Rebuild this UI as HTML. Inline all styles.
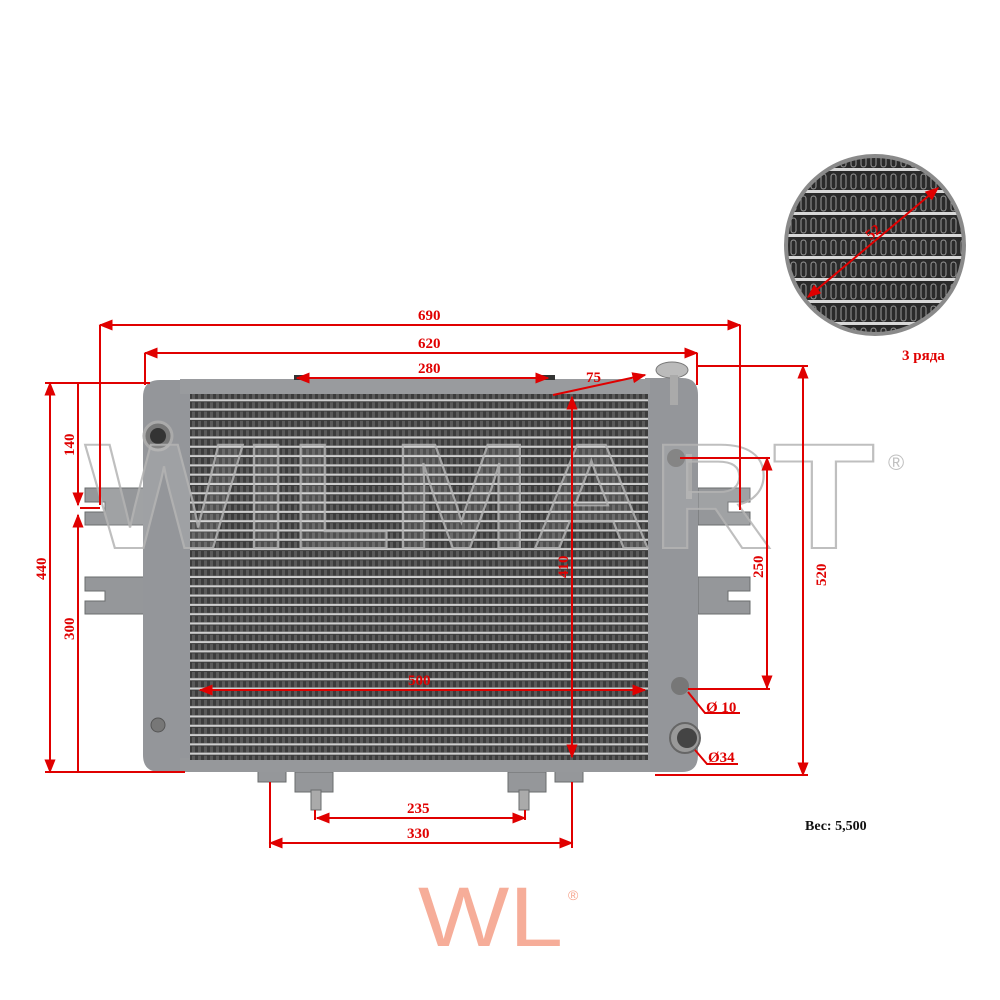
<!DOCTYPE html>
<html><head><meta charset="utf-8"><style>
html,body{margin:0;padding:0;background:#fff;width:1000px;height:1000px;overflow:hidden}
svg{display:block}
.t{font-family:"Liberation Serif",serif;font-weight:bold;fill:#e00000;font-size:15px}
</style></head><body>
<svg width="1000" height="1000" viewBox="0 0 1000 1000">
<defs>
<pattern id="core" x="0" y="392" width="6" height="9.3" patternUnits="userSpaceOnUse">
<rect width="6" height="9.3" fill="#3c3c3c"/>
<rect x="0" y="1" width="3" height="6" fill="#5a5a5a"/>
<rect y="7.2" width="6" height="2.1" fill="#cfcfcf"/>
</pattern>
<pattern id="inset" x="0" y="150" width="10" height="22" patternUnits="userSpaceOnUse">
<rect width="10" height="22" fill="#2a2a2a"/>
<rect x="1" y="2" width="5" height="15" rx="2.5" fill="none" stroke="#9a9a9a" stroke-width="1"/>
<rect y="18" width="10" height="3" fill="#d8d8d8"/>
</pattern>
<marker id="a" viewBox="0 0 10 10" refX="9" refY="5" markerWidth="7" markerHeight="7" orient="auto-start-reverse"><path d="M0,1 L10,5 L0,9 Z" fill="#e00000"/></marker>
<clipPath id="cc"><circle cx="875" cy="245" r="87"/></clipPath>
</defs>

<!-- brackets -->
<g fill="#95979a" stroke="#6a6c6e">
<path d="M85,488 H145 V525 H85 V512 H105 V502 H85 Z"/>
<path d="M85,577 H145 V614 H85 V601 H105 V591 H85 Z"/>
<path d="M698,488 H750 V502 H728 V512 H750 V525 H698 Z"/>
<path d="M698,577 H750 V591 H728 V601 H750 V614 H698 Z"/>
<rect x="258" y="770" width="28" height="12"/><rect x="555" y="770" width="28" height="12"/>
<rect x="295" y="772" width="38" height="20"/><rect x="508" y="772" width="38" height="20"/>
<rect x="311" y="790" width="10" height="20" fill="#aaa"/><rect x="519" y="790" width="10" height="20" fill="#aaa"/>
</g>
<!-- frame -->
<path d="M160,380 H190 V772 H160 Q143,772 143,755 V397 Q143,380 160,380 Z" fill="#94969a"/>
<path d="M645,378 H682 Q698,378 698,395 V755 Q698,772 682,772 H645 Z" fill="#94969a"/>
<rect x="180" y="379" width="470" height="15" fill="#999b9e"/>
<rect x="180" y="758" width="470" height="14" fill="#96989b"/>
<rect x="190" y="394" width="458" height="366" fill="url(#core)"/>
<rect x="294" y="375" width="14" height="5" fill="#333"/><rect x="541" y="375" width="14" height="5" fill="#333"/>
<circle cx="158" cy="436" r="14" fill="#777" stroke="#aaa" stroke-width="3"/><circle cx="158" cy="436" r="8" fill="#333"/>
<circle cx="158" cy="725" r="7" fill="#777" stroke="#555"/>
<ellipse cx="672" cy="370" rx="16" ry="8" fill="#bbb" stroke="#777"/>
<rect x="670" y="375" width="8" height="30" fill="#aaa"/>
<circle cx="676" cy="458" r="9" fill="#777"/><rect x="686" y="454" width="6" height="45" fill="#aaa"/>
<circle cx="680" cy="686" r="9" fill="#777"/>
<circle cx="685" cy="738" r="15" fill="#999" stroke="#666" stroke-width="2"/><circle cx="687" cy="738" r="10" fill="#444"/>

<!-- watermark -->
<text x="85" y="548" font-family="Liberation Sans,sans-serif" font-weight="bold" font-size="150" fill="#ffffff" fill-opacity="0.12" stroke="#b5b5b5" stroke-width="2" textLength="790" lengthAdjust="spacingAndGlyphs" opacity="0.85">WILMART</text>
<text x="888" y="470" font-family="Liberation Sans,sans-serif" font-size="22" fill="#c0c0c0">®</text>

<!-- inset -->
<circle cx="875" cy="245" r="91" fill="#8a8a8a"/>
<rect x="780" y="150" width="190" height="190" fill="url(#inset)" clip-path="url(#cc)"/>
<line x1="808" y1="297" x2="938" y2="188" stroke="#e00000" stroke-width="2" marker-start="url(#a)" marker-end="url(#a)"/>
<text class="t" x="866" y="238" transform="rotate(-40 872 233)" font-weight="normal">52</text>
<text class="t" x="902" y="360">3 ряда</text>

<!-- dimensions -->
<g stroke="#e00000" stroke-width="2" fill="none">
<line x1="100" y1="325" x2="740" y2="325" marker-start="url(#a)" marker-end="url(#a)"/>
<line x1="100" y1="325" x2="100" y2="505"/><line x1="740" y1="325" x2="740" y2="510"/>
<line x1="145" y1="353" x2="697" y2="353" marker-start="url(#a)" marker-end="url(#a)"/>
<line x1="145" y1="353" x2="145" y2="385"/><line x1="697" y1="353" x2="697" y2="385"/>
<line x1="297" y1="378" x2="548" y2="378" marker-start="url(#a)" marker-end="url(#a)"/>
<line x1="553" y1="395" x2="645" y2="375" marker-end="url(#a)"/>
<line x1="803" y1="366" x2="803" y2="775" marker-start="url(#a)" marker-end="url(#a)"/>
<line x1="698" y1="366" x2="808" y2="366"/><line x1="655" y1="775" x2="808" y2="775"/>
<line x1="767" y1="458" x2="767" y2="688" marker-start="url(#a)" marker-end="url(#a)"/>
<line x1="680" y1="458" x2="770" y2="458"/><line x1="688" y1="689" x2="770" y2="689"/>
<line x1="50" y1="383" x2="50" y2="772" marker-start="url(#a)" marker-end="url(#a)"/>
<line x1="45" y1="383" x2="150" y2="383"/><line x1="45" y1="772" x2="185" y2="772"/>
<line x1="78" y1="383" x2="78" y2="505" marker-end="url(#a)"/>
<line x1="78" y1="515" x2="78" y2="772" marker-start="url(#a)"/>
<line x1="80" y1="508" x2="100" y2="508"/>
<line x1="572" y1="397" x2="572" y2="757" marker-start="url(#a)" marker-end="url(#a)"/>
<line x1="200" y1="690" x2="645" y2="690" marker-start="url(#a)" marker-end="url(#a)"/>
<line x1="317" y1="818" x2="525" y2="818" marker-start="url(#a)" marker-end="url(#a)"/>
<line x1="315" y1="810" x2="315" y2="820"/><line x1="525" y1="810" x2="525" y2="820"/>
<line x1="270" y1="843" x2="572" y2="843" marker-start="url(#a)" marker-end="url(#a)"/>
<line x1="270" y1="782" x2="270" y2="848"/><line x1="572" y1="782" x2="572" y2="848"/>
<polyline points="688,692 705,713 740,713"/>
<polyline points="695,750 707,764 738,764"/>
</g>
<text class="t" x="418" y="320">690</text>
<text class="t" x="418" y="348">620</text>
<text class="t" x="418" y="373">280</text>
<text class="t" x="586" y="382">75</text>
<text class="t" x="0" y="0" transform="translate(826,586) rotate(-90)">520</text>
<text class="t" x="0" y="0" transform="translate(763,578) rotate(-90)">250</text>
<text class="t" x="0" y="0" transform="translate(46,580) rotate(-90)">440</text>
<text class="t" x="0" y="0" transform="translate(74,456) rotate(-90)">140</text>
<text class="t" x="0" y="0" transform="translate(74,640) rotate(-90)">300</text>
<text class="t" x="0" y="0" transform="translate(568,578) rotate(-90)" font-weight="normal">410</text>
<text class="t" x="408" y="685" font-weight="normal">500</text>
<text class="t" x="407" y="813">235</text>
<text class="t" x="407" y="838">330</text>
<text class="t" x="706" y="712">Ø 10</text>
<text class="t" x="708" y="762">Ø34</text>
<text x="805" y="830" font-family="Liberation Serif,serif" font-weight="bold" font-size="14" fill="#111">Вес: 5,500</text>

<!-- WL logo -->
<text x="418" y="946" font-family="Liberation Sans,sans-serif" font-size="84" fill="#f6a58e" textLength="145" lengthAdjust="spacingAndGlyphs" opacity="0.9">WL</text>
<text x="568" y="900" font-family="Liberation Sans,sans-serif" font-size="14" fill="#f6a58e">®</text>
</svg>
</body></html>
